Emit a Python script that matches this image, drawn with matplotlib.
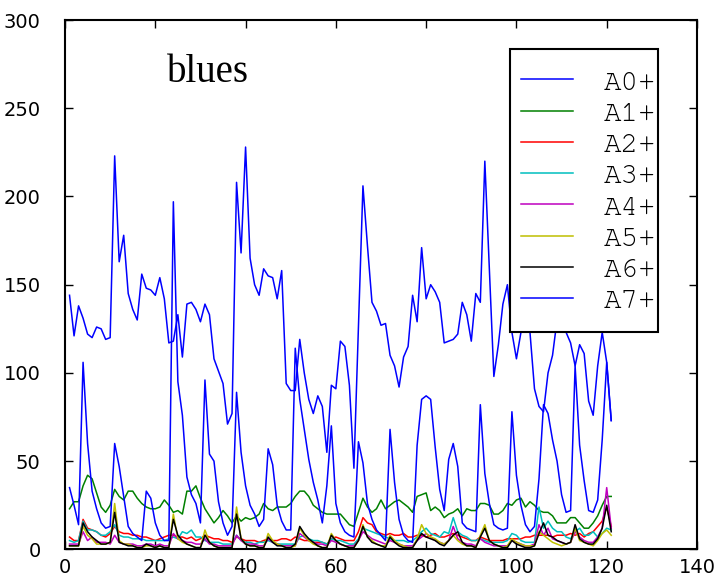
import numpy as np
import matplotlib
matplotlib.use('Agg')
import matplotlib.pyplot as plt
from matplotlib import font_manager
from matplotlib.patches import Rectangle

plt.rcParams['font.family'] = ['Liberation Sans Narrow', 'DejaVu Sans']

# values, one per step (x = 1..121)
a0 = [144, 121, 138, 131, 122, 120, 126, 125, 119, 120,
      223, 163, 178, 145, 136, 130, 156, 148, 147, 144,
      154, 142, 117, 118, 133, 109, 139, 140, 136, 129,
      139, 133, 108, 101, 94, 71, 77, 208, 168, 228,
      165, 150, 144, 159, 155, 154, 142, 158, 94, 90,
      90, 119, 100, 85, 77, 87, 81, 55, 93, 91,
      118, 115, 93, 46, 126, 206, 172, 140, 135, 127,
      128, 110, 104, 92, 109, 115, 144, 129, 171, 142,
      150, 146, 140, 117, 118, 119, 122, 140, 133, 118,
      145, 140, 220, 159, 98, 116, 139, 150, 123, 108,
      123, 140, 123, 91, 81, 78, 100, 110, 130, 138,
      123, 117, 104, 116, 111, 84, 76, 104, 123, 106, 73]
a1 = [23, 27, 27, 36, 42, 40, 32, 24, 21, 25,
      34, 30, 28, 33, 33, 29, 26, 24, 23, 23,
      24, 28, 25, 21, 22, 20, 33, 33, 36, 29,
      23, 19, 15, 18, 22, 19, 15, 19, 16, 18,
      17, 18, 20, 26, 23, 22, 24, 24, 24, 26,
      30, 33, 33, 30, 25, 23, 21, 20, 20, 20,
      20, 17, 14, 13, 21, 29, 24, 21, 23, 28,
      23, 25, 27, 28, 26, 24, 21, 30, 31, 32,
      22, 24, 22, 18, 20, 21, 23, 19, 23, 22,
      22, 26, 26, 25, 20, 20, 22, 26, 25, 28,
      29, 24, 27, 25, 22, 21, 21, 19, 15, 15,
      15, 18, 18, 15, 12, 12, 15, 19, 25, 30, 30]
a2 = [7, 5, 5, 17, 12, 11, 10, 8, 7, 9,
      13, 10, 9, 9, 8, 8, 7, 7, 6, 5,
      6, 7, 8, 8, 7, 7, 6, 7, 5, 6,
      8, 7, 6, 6, 5, 5, 4, 7, 6, 5,
      5, 5, 4, 5, 6, 5, 5, 6, 6, 5,
      7, 6, 5, 5, 4, 4, 4, 3, 6, 7,
      6, 5, 5, 5, 10, 18, 15, 14, 10, 9,
      8, 9, 8, 8, 9, 7, 7, 8, 8, 7,
      8, 9, 7, 7, 8, 9, 8, 7, 6, 5,
      5, 7, 6, 5, 5, 5, 5, 6, 6, 6,
      6, 7, 7, 8, 8, 8, 8, 7, 8, 8,
      8, 9, 8, 9, 7, 9, 10, 13, 16, 24, 13]
a3 = [5, 4, 5, 16, 11, 11, 10, 8, 8, 10,
      14, 8, 7, 7, 6, 6, 6, 5, 5, 5,
      5, 5, 6, 7, 6, 10, 9, 11, 7, 7,
      5, 4, 4, 4, 3, 3, 3, 8, 5, 4,
      4, 3, 4, 4, 5, 4, 3, 3, 3, 3,
      3, 7, 8, 6, 5, 5, 4, 3, 6, 5,
      5, 4, 3, 3, 6, 12, 11, 10, 9, 8,
      7, 6, 5, 5, 5, 4, 5, 7, 10, 12,
      9, 8, 7, 10, 9, 18, 10, 8, 7, 5,
      5, 6, 5, 4, 4, 4, 4, 5, 9, 8,
      5, 4, 4, 4, 24, 12, 16, 12, 10, 10,
      7, 6, 10, 12, 8, 8, 10, 7, 9, 12, 11]
a4 = [3, 3, 3, 10, 5, 7, 4, 4, 4, 3,
      8, 4, 3, 3, 3, 2, 2, 3, 3, 2,
      3, 2, 2, 9, 6, 5, 4, 4, 3, 3,
      6, 3, 3, 2, 2, 2, 2, 8, 5, 3,
      3, 3, 2, 2, 6, 4, 3, 2, 2, 2,
      2, 9, 7, 5, 4, 3, 3, 2, 5, 4,
      3, 2, 2, 2, 5, 10, 8, 6, 5, 4,
      3, 5, 4, 3, 2, 2, 2, 5, 7, 9,
      7, 5, 4, 3, 5, 13, 6, 4, 3, 3,
      2, 6, 4, 3, 2, 2, 2, 2, 5, 4,
      3, 2, 2, 3, 14, 8, 12, 6, 5, 4,
      3, 4, 10, 7, 5, 4, 4, 7, 12, 35, 12]
a5 = [2, 2, 2, 13, 8, 6, 3, 3, 3, 4,
      26, 5, 3, 3, 2, 1, 1, 2, 2, 1,
      2, 1, 1, 20, 6, 4, 3, 2, 1, 1,
      11, 4, 2, 1, 1, 0, 1, 24, 6, 3,
      2, 2, 1, 1, 9, 5, 3, 2, 1, 1,
      2, 12, 8, 5, 3, 2, 1, 1, 9, 5,
      3, 2, 1, 1, 5, 14, 7, 5, 3, 2,
      2, 8, 5, 3, 2, 1, 1, 6, 14, 9,
      7, 6, 4, 3, 5, 8, 5, 3, 2, 2,
      1, 8, 14, 5, 3, 2, 1, 2, 6, 4,
      3, 2, 2, 2, 10, 8, 6, 4, 3, 2,
      3, 4, 12, 5, 4, 3, 2, 5, 9, 11, 8]
a6 = [2, 2, 2, 15, 10, 7, 5, 3, 3, 4,
      21, 4, 3, 2, 2, 1, 1, 3, 2, 1,
      2, 1, 1, 17, 8, 5, 3, 2, 1, 1,
      8, 4, 2, 1, 1, 1, 1, 20, 6, 3,
      2, 2, 1, 1, 7, 4, 2, 2, 1, 1,
      3, 13, 9, 6, 4, 2, 1, 1, 8, 5,
      3, 2, 1, 1, 5, 13, 7, 4, 3, 2,
      1, 7, 4, 2, 1, 1, 1, 5, 9, 7,
      6, 5, 3, 2, 5, 8, 10, 4, 2, 2,
      1, 7, 12, 5, 3, 2, 1, 1, 5, 3,
      2, 1, 1, 2, 9, 15, 8, 7, 5, 4,
      3, 4, 14, 6, 4, 3, 3, 6, 12, 25, 10]
a7 = [35, 25, 14, 106, 60, 33, 23, 15, 12, 13,
      60, 47, 30, 13, 9, 7, 5, 33, 29, 15,
      8, 5, 5, 197, 95, 76, 41, 31, 26, 15,
      96, 54, 50, 27, 15, 8, 13, 89, 55, 36,
      25, 20, 13, 17, 57, 48, 25, 16, 11, 11,
      114, 85, 68, 51, 38, 28, 15, 36, 70, 26,
      15, 10, 8, 7, 61, 49, 26, 17, 11, 8,
      5, 68, 38, 17, 8, 5, 4, 59, 85, 87,
      85, 58, 34, 22, 51, 60, 47, 15, 12, 11,
      10, 82, 43, 26, 14, 12, 11, 12, 78, 42,
      25, 14, 10, 13, 40, 82, 77, 62, 50, 31,
      21, 22, 104, 59, 39, 22, 21, 28, 62, 106, 73]

labels = ['A0+', 'A1+', 'A2+', 'A3+', 'A4+', 'A5+', 'A6+', 'A7+']
colors = ['b', 'g', 'r', 'c', 'm', 'y', 'k', 'b']
series = [a0, a1, a2, a3, a4, a5, a6, a7]

# pick a courier-like face if one is around, else the plain mono
installed = {f.name for f in font_manager.fontManager.ttflist}
mono = [f for f in ['Courier New', 'Nimbus Mono PS', 'FreeMono', 'Courier',
                    'Liberation Mono'] if f in installed] or ['DejaVu Sans Mono']

fig = plt.figure(figsize=(7.24, 5.85), dpi=100)
ax = fig.add_axes([0.0898, 0.0609, 0.8729, 0.9049])

x = np.arange(1, len(a0) + 1)
for s, c, lab in zip(series, colors, labels):
    ax.plot(x, s, color=c, lw=1.1, label=lab)

ax.set_xlim(0, 140)
ax.set_ylim(0, 300)
ax.set_xticks(np.arange(0, 141, 20))
ax.set_yticks(np.arange(0, 301, 50))
ax.tick_params(direction='in', top=True, right=True, length=6, width=1,
               labelsize=14)
ax.tick_params(axis='x', pad=6)
ax.tick_params(axis='y', pad=17.5)
for sp in ax.spines.values():
    sp.set_linewidth(1.5)

ax.text(0.161, 0.883, 'blues', transform=ax.transAxes, fontsize=28,
        family=['Liberation Serif', 'DejaVu Serif'], ha='left', va='baseline')

# legend box drawn on its own so its padding can differ from the entries
box = Rectangle((0.704, 0.411), 0.234, 0.534, transform=ax.transAxes,
                facecolor='white', edgecolor='black', lw=1.5, zorder=4)
ax.add_patch(box)
leg = ax.legend(loc='upper left', bbox_to_anchor=(0.7215, 0.907),
                borderaxespad=0, borderpad=0, frameon=False,
                prop={'family': mono, 'size': 21},
                handlelength=1.8, handletextpad=1.03, labelspacing=0.165)
leg.set_zorder(5)

fig.savefig('out.png', dpi=100)
